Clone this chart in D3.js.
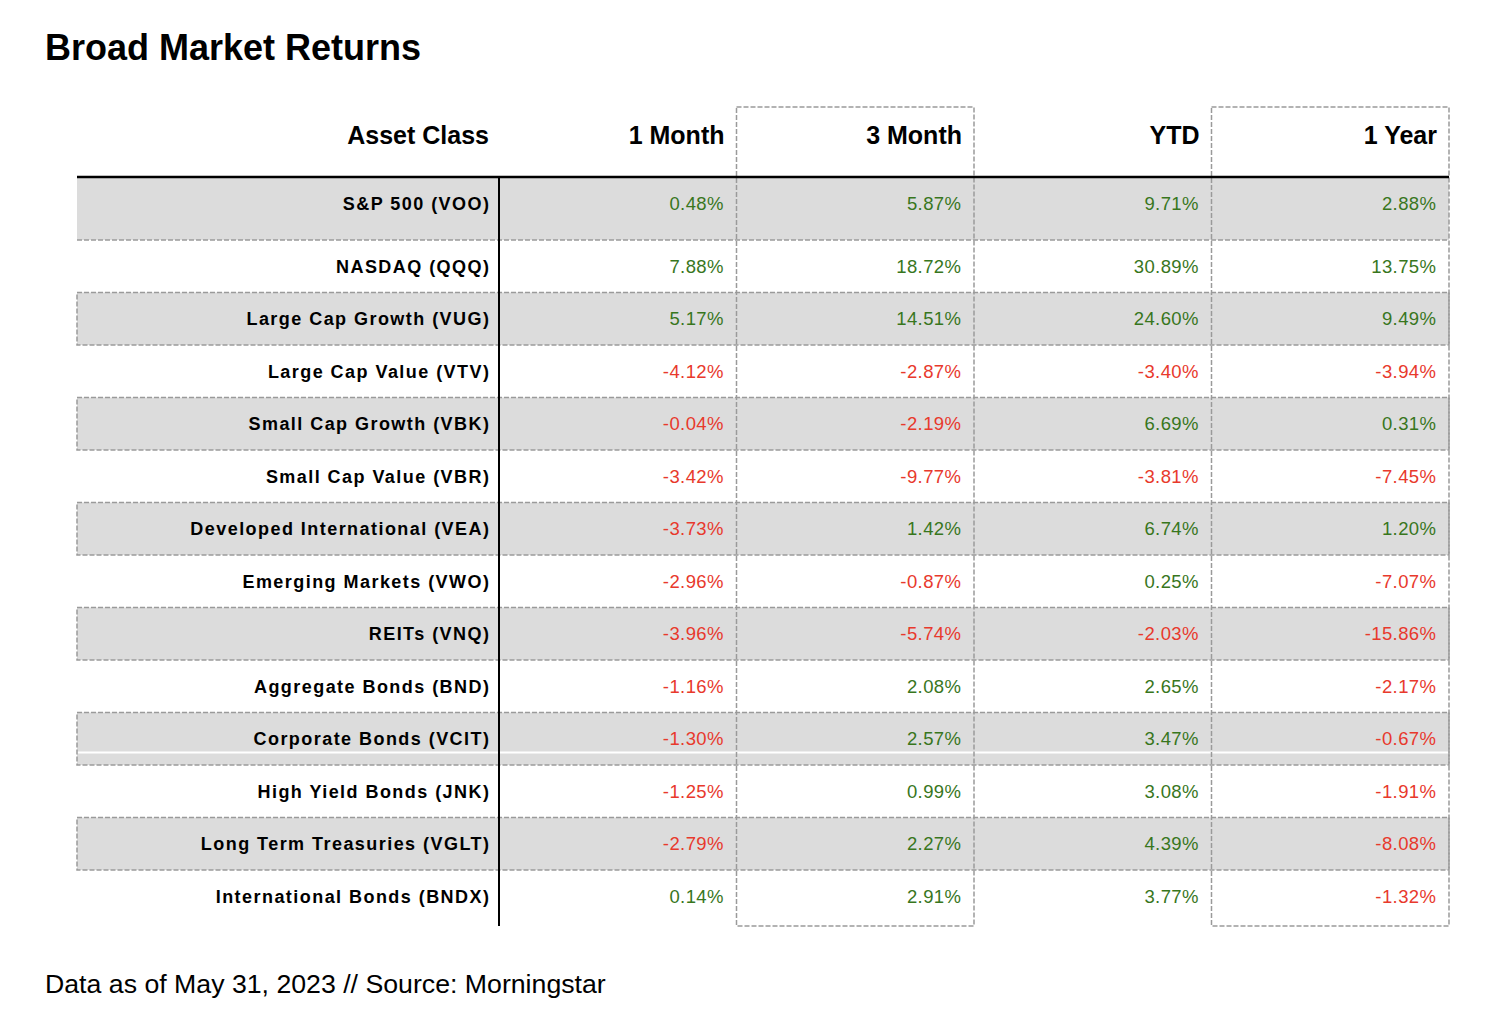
<!DOCTYPE html>
<html lang="en">

<head>
    <meta charset="UTF-8">
    <title>Broad Market Returns</title>
    <script src="https://d3js.org/d3.v7.min.js"></script>
    <style>
        body {
            margin: 0;
            background: #fff;
        }

        text {
            font-family: "Liberation Sans", Arial, Helvetica, sans-serif;
        }

        .dash {
            fill: none;
            stroke: #9a9a9a;
            stroke-width: 1.5px;
            stroke-dasharray: 5 2;
        }
    </style>
</head>

<body>
    <svg width="1504" height="1028"></svg>

    <script>
        // table data
        const periods = ["1 Month", "3 Month", "YTD", "1 Year"];
        const assets = [
            "S&P 500 (VOO)", "NASDAQ (QQQ)", "Large Cap Growth (VUG)", "Large Cap Value (VTV)",
            "Small Cap Growth (VBK)", "Small Cap Value (VBR)", "Developed International (VEA)",
            "Emerging Markets (VWO)", "REITs (VNQ)", "Aggregate Bonds (BND)", "Corporate Bonds (VCIT)",
            "High Yield Bonds (JNK)", "Long Term Treasuries (VGLT)", "International Bonds (BNDX)"
        ];
        const oneMonth = [0.48, 7.88, 5.17, -4.12, -0.04, -3.42, -3.73, -2.96, -3.96, -1.16, -1.30, -1.25, -2.79, 0.14];
        const threeMonth = [5.87, 18.72, 14.51, -2.87, -2.19, -9.77, 1.42, -0.87, -5.74, 2.08, 2.57, 0.99, 2.27, 2.91];
        const ytd = [9.71, 30.89, 24.60, -3.40, 6.69, -3.81, 6.74, 0.25, -2.03, 2.65, 3.47, 3.08, 4.39, 3.77];
        const oneYear = [2.88, 13.75, 9.49, -3.94, 0.31, -7.45, 1.20, -7.07, -15.86, -2.17, -0.67, -1.91, -8.08, -1.32];
        const series = [oneMonth, threeMonth, ytd, oneYear];

        const svg = d3.select("svg");

        // layout
        const left = 77, labelRight = 499, right = 1449;
        const boxTop = 107, headTop = 177;
        // first row is a bit taller, last one too
        const rowH = assets.map((d, i) => i === 0 ? 63 : (i === assets.length - 1 ? 56 : 52.5));
        const rowTop = [];
        rowH.reduce((acc, h, i) => { rowTop[i] = acc; return acc + h; }, headTop);
        const bottom = rowTop[assets.length - 1] + rowH[assets.length - 1];

        const x = d3.scaleBand().domain(periods).range([labelRight, right]);
        const y = d3.scaleOrdinal().domain(assets).range(rowTop);

        const green = "#38761d", red = "#e8392c";

        // title
        svg.append("text")
            .attr("x", 45).attr("y", 60)
            .attr("font-size", 36).attr("font-weight", "bold")
            .attr("fill", "#000")
            .text("Broad Market Returns");

        // shaded rows
        const shaded = assets.filter((d, i) => i % 2 === 0);
        svg.append("g").selectAll("rect")
            .data(shaded)
            .join("rect")
            .attr("x", left).attr("y", d => y(d))
            .attr("width", right - left)
            .attr("height", d => rowH[assets.indexOf(d)])
            .attr("fill", "#dcdcdc");

        // odd white stripe inside the corporate bonds row
        svg.append("line")
            .attr("x1", left).attr("x2", right)
            .attr("y1", y("Corporate Bonds (VCIT)") + 40).attr("y2", y("Corporate Bonds (VCIT)") + 40)
            .attr("stroke", "#fff").attr("stroke-width", 2);

        // dashed outlines of shaded rows (first one only gets its bottom edge)
        svg.append("g").selectAll("rect")
            .data(shaded.slice(1))
            .join("rect")
            .attr("class", "dash")
            .attr("x", left).attr("y", d => y(d))
            .attr("width", right - left)
            .attr("height", d => rowH[assets.indexOf(d)]);
        svg.append("line")
            .attr("class", "dash")
            .attr("x1", left).attr("x2", right)
            .attr("y1", y(assets[1])).attr("y2", y(assets[1]));

        // dashed boxes around 3 Month and 1 Year columns
        svg.append("g").selectAll("rect")
            .data(["3 Month", "1 Year"])
            .join("rect")
            .attr("class", "dash")
            .attr("x", d => x(d)).attr("y", boxTop)
            .attr("width", x.bandwidth())
            .attr("height", bottom - boxTop);

        // header rule + label column rule
        svg.append("line")
            .attr("x1", left).attr("x2", right)
            .attr("y1", headTop).attr("y2", headTop)
            .attr("stroke", "#000").attr("stroke-width", 2.5);
        svg.append("line")
            .attr("x1", labelRight).attr("x2", labelRight)
            .attr("y1", headTop).attr("y2", bottom)
            .attr("stroke", "#000").attr("stroke-width", 2);

        // header texts
        const head = svg.append("g")
            .attr("font-size", 25).attr("font-weight", "bold")
            .attr("text-anchor", "end").attr("fill", "#000");
        head.append("text")
            .attr("x", labelRight - 10).attr("y", 144)
            .text("Asset Class");
        head.selectAll(".ph")
            .data(periods)
            .join("text")
            .attr("class", "ph")
            .attr("x", d => x(d) + x.bandwidth() - 12)
            .attr("y", 144)
            .text(d => d);

        // asset labels
        svg.append("g").selectAll("text")
            .data(assets)
            .join("text")
            .attr("x", labelRight - 10 + 1.4)
            .attr("y", d => y(d) + 32.5)
            .attr("text-anchor", "end")
            .attr("font-size", 18).attr("font-weight", "bold")
            .attr("letter-spacing", 1.45)
            .attr("fill", "#000")
            .text(d => d);

        // values
        const cells = [];
        periods.forEach((p, j) => series[j].forEach((v, i) => cells.push({ p, a: assets[i], v })));
        svg.append("g").selectAll("text")
            .data(cells)
            .join("text")
            .attr("x", d => x(d.p) + x.bandwidth() - 13 + 0.4)
            .attr("y", d => y(d.a) + 32.5)
            .attr("text-anchor", "end")
            .attr("font-size", 18.5)
            .attr("letter-spacing", 0.4)
            .attr("fill", d => d.v < 0 ? red : green)
            .text(d => d.v.toFixed(2) + "%");

        // footnote
        svg.append("text")
            .attr("x", 45).attr("y", 993)
            .attr("font-size", 26.7)
            .attr("fill", "#000")
            .text("Data as of May 31, 2023 // Source: Morningstar");
    </script>
</body>

</html>
